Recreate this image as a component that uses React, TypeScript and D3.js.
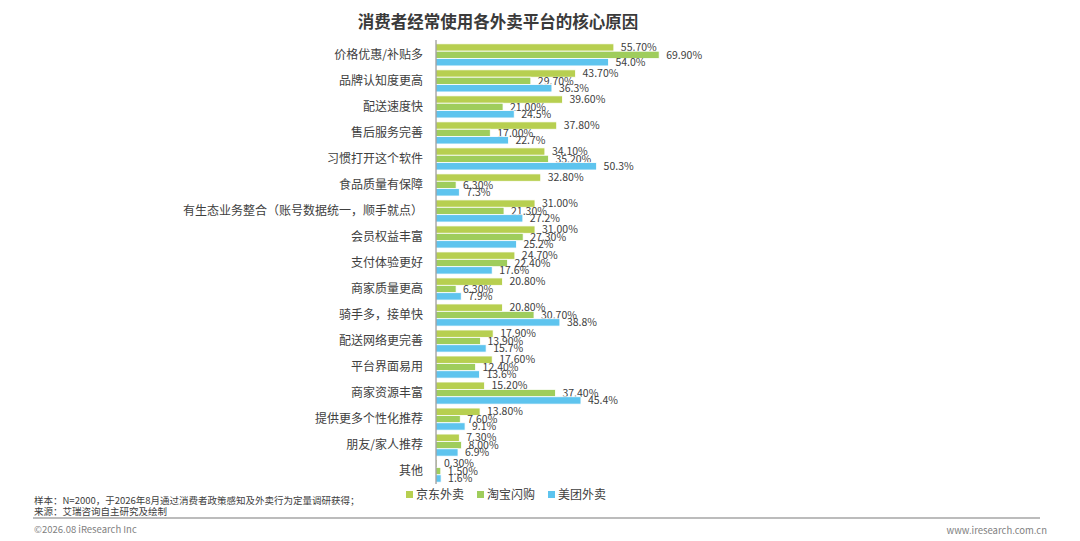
import React from "react";
import * as d3 from "d3";

// reasons (top to bottom)
const categories = [
  "价格优惠/补贴多",
  "品牌认知度更高",
  "配送速度快",
  "售后服务完善",
  "习惯打开这个软件",
  "食品质量有保障",
  "有生态业务整合（账号数据统一，顺手就点）",
  "会员权益丰富",
  "支付体验更好",
  "商家质量更高",
  "骑手多，接单快",
  "配送网络更完善",
  "平台界面易用",
  "商家资源丰富",
  "提供更多个性化推荐",
  "朋友/家人推荐",
  "其他",
];

const seriesNames = ["京东外卖", "淘宝闪购", "美团外卖"];

const jdValues = [55.7, 43.7, 39.6, 37.8, 34.1, 32.8, 31.0, 31.0, 24.7, 20.8, 20.8, 17.9, 17.6, 15.2, 13.8, 7.3, 0.3];
const tbValues = [69.9, 29.7, 21.0, 17.0, 35.2, 6.3, 21.3, 27.3, 22.4, 6.3, 30.7, 13.9, 12.4, 37.4, 7.6, 8.0, 1.5];
const mtValues = [54.0, 36.3, 24.5, 22.7, 50.3, 7.3, 27.2, 25.2, 17.6, 7.9, 38.8, 15.7, 13.6, 45.4, 9.1, 6.9, 1.6];

const colors = ["#b7cf50", "#9fcd5c", "#5ec4ee"];
const decimals = [2, 2, 1];

const FONT = "'Noto Sans CJK SC', 'Noto Sans', sans-serif";
const TEXT = "#404040";

export default function App() {
  const W = 1080,
    H = 541;
  const values = [jdValues, tbValues, mtValues];

  const x = d3.scaleLinear().domain([0, 70]).range([436, 659.5]);
  const y = d3
    .scaleBand<string>()
    .domain(categories)
    .range([42, 484])
    .paddingInner(0.15)
    .paddingOuter(0.07);
  const inner = d3
    .scaleBand<string>()
    .domain(seriesNames)
    .range([0, y.bandwidth()]);

  const legendX = [406, 477, 548];

  return (
    <svg
      width={W}
      height={H}
      style={{ position: "absolute", left: 0, top: 0, background: "#fff" }}
      fontFamily={FONT}
    >
      <text
        x={498}
        y={28}
        textAnchor="middle"
        fontSize={16.5}
        fontWeight="bold"
        fill="#3a3a3a"
      >
        消费者经常使用各外卖平台的核心原因
      </text>

      {/* category labels */}
      {categories.map((c) => (
        <text
          key={c}
          x={423}
          y={(y(c) ?? 0) + y.bandwidth() / 2}
          dy="0.35em"
          textAnchor="end"
          fontSize={12}
          fill={TEXT}
        >
          {c}
        </text>
      ))}

      {/* bars */}
      {categories.map((c, i) => (
        <g key={c} transform={`translate(0,${y(c)})`}>
          {seriesNames.map((s, j) => {
            const v = values[j][i];
            const by = inner(s) ?? 0;
            return (
              <g key={s}>
                <rect
                  x={x(0)}
                  y={by}
                  width={x(v) - x(0)}
                  height={inner.bandwidth()}
                  fill={colors[j]}
                  stroke="#fff"
                  strokeWidth={0.8}
                />
                <text
                  x={x(v) + 7}
                  y={by + inner.bandwidth() / 2}
                  dy="0.35em"
                  fontSize={10.5}
                  fill={TEXT}
                >
                  {v.toFixed(decimals[j]) + "%"}
                </text>
              </g>
            );
          })}
        </g>
      ))}

      {/* axis */}
      <line x1={436} x2={436} y1={40} y2={484} stroke="#808080" strokeWidth={1} />

      {/* legend */}
      {seriesNames.map((s, j) => (
        <g key={s}>
          <rect x={legendX[j]} y={491} width={7} height={7} fill={colors[j]} />
          <text x={legendX[j] + 10} y={494.5} dy="0.35em" fontSize={12} fill={TEXT}>
            {s}
          </text>
        </g>
      ))}

      {/* footer */}
      <text x={34} y={500.5} dy="0.35em" fontSize={9.5} fill={TEXT}>
        样本：N=2000，于2026年8月通过消费者政策感知及外卖行为定量调研获得；
      </text>
      <text x={34} y={512} dy="0.35em" fontSize={9.5} fill={TEXT}>
        来源：艾瑞咨询自主研究及绘制
      </text>
      <line x1={33} x2={1040} y1={518} y2={518} stroke="#a6a6a6" strokeWidth={1.5} />
      <text x={34} y={530} dy="0.35em" fontSize={9.5} fill="#7f7f7f">
        ©2026.08 iResearch Inc
      </text>
      <text x={1047} y={531} dy="0.35em" textAnchor="end" fontSize={9.5} fill="#7f7f7f">
        www.iresearch.com.cn
      </text>
    </svg>
  );
}
